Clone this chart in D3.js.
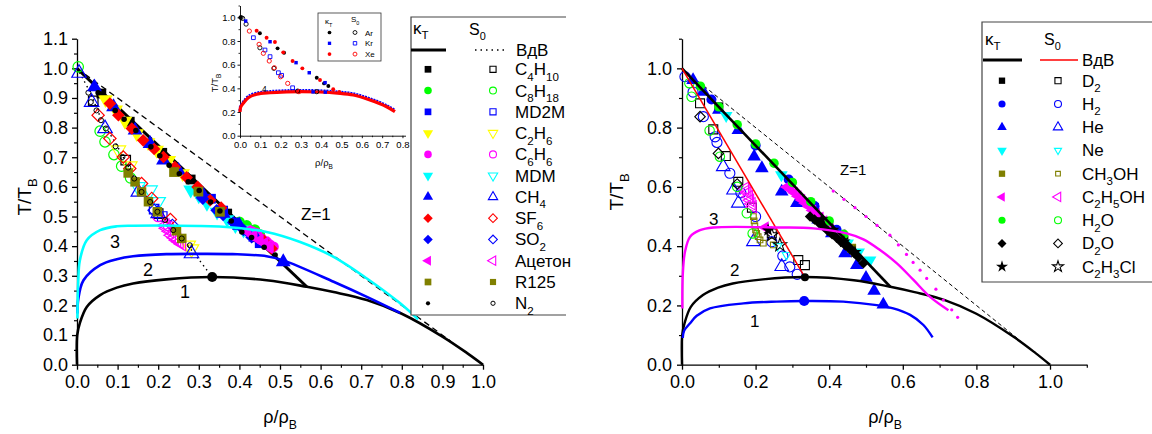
<!DOCTYPE html>
<html><head><meta charset="utf-8">
<script src="https://cdn.jsdelivr.net/npm/d3@7"></script>
<style>body{margin:0;background:#fff}svg{font-family:"Liberation Sans",Arial,sans-serif}</style>
</head><body><svg id="c" width="1152" height="434"></svg>
<script>
// ================= DATA =================
const L_xTicks=[0,0.1,0.2,0.3,0.4,0.5,0.6,0.7,0.8,0.9,1.0];
const L_xMinor=[0.05,0.15,0.25,0.35,0.45,0.55,0.65,0.75,0.85,0.95];
const L_yTicks=[0,0.1,0.2,0.3,0.4,0.5,0.6,0.7,0.8,0.9,1.0,1.1];
const L_yMinor=[0.05,0.15,0.25,0.35,0.45,0.55,0.65,0.75,0.85,0.95,1.05];
const R_xTicks=[0,0.2,0.4,0.6,0.8,1.0];
const R_xMinor=[0.1,0.3,0.5,0.7,0.9,1.1];
const R_yTicks=[0,0.2,0.4,0.6,0.8,1.0];
const R_yMinor=[0.1,0.3,0.5,0.7,0.9,1.1];
const I_xTicks=[0,0.1,0.2,0.3,0.4,0.5,0.6,0.7,0.8];
const I_xMinor=[0.05,0.15,0.25,0.35,0.45,0.55,0.65,0.75];
const I_yTicks=[0,0.2,0.4,0.6,0.8,1.0];
const I_yMinor=[0.1,0.3,0.5,0.7,0.9,1.1];

const zenoLine=[[0,1],[0.92,0.08]];
const kappaLine=[[0,1],[0.566,0.263]];
const L_s0Line=[[0,1],[0.03,0.925],[0.06,0.83],[0.1,0.735],[0.14,0.635],[0.18,0.55],[0.22,0.485],[0.26,0.425],[0.3,0.355],[0.333,0.296]];
const R_s0Line=[[0,1],[0.334,0.295]];
const binodal=[[0,0],[0.0005,0.1],[0.007,0.14],[0.024,0.195],[0.057,0.235],[0.098,0.26],[0.138,0.274],[0.22,0.288],[0.333,0.296],[0.467,0.285],[0.566,0.263],[0.632,0.245],[0.714,0.218],[0.8,0.172],[0.9,0.095],[0.96,0.04],[1.0,0]];
const L_curve2=[[0.001,0.173],[0.003,0.22],[0.016,0.285],[0.057,0.336],[0.098,0.356],[0.138,0.366],[0.22,0.373],[0.301,0.374],[0.383,0.373],[0.467,0.366],[0.508,0.352],[0.632,0.28],[0.714,0.229],[0.796,0.175]];
const L_curve3=[[0.001,0.156],[0.003,0.28],[0.007,0.352],[0.024,0.42],[0.057,0.454],[0.098,0.467],[0.138,0.469],[0.301,0.468],[0.383,0.463],[0.467,0.448],[0.548,0.415],[0.632,0.364],[0.714,0.291],[0.796,0.207],[0.84,0.153]];
const R_curve1=[[0.002,0.09],[0.006,0.115],[0.022,0.14],[0.04,0.165],[0.076,0.19],[0.167,0.207],[0.257,0.213],[0.33,0.215],[0.438,0.213],[0.529,0.201],[0.574,0.19],[0.62,0.168],[0.656,0.134],[0.681,0.092]];
const R_curve3=[[0.001,0.19],[0.002,0.3],[0.008,0.38],[0.022,0.432],[0.049,0.454],[0.085,0.463],[0.266,0.463],[0.357,0.46],[0.447,0.443],[0.493,0.423],[0.538,0.387],[0.584,0.342],[0.629,0.286],[0.674,0.229],[0.724,0.184]];
const R_magDots=[[0.411,0.586],[0.44,0.558],[0.47,0.53],[0.5,0.5],[0.53,0.47],[0.565,0.437],[0.588,0.404],[0.61,0.372],[0.628,0.345],[0.647,0.319],[0.665,0.291],[0.69,0.255],[0.71,0.218],[0.733,0.185],[0.749,0.16]];
const L_crit=[[0.333,0.296]];
const R_crit=[[0.334,0.295]];

const L_C4H10_k=[[0.06,0.915],[0.13,0.82],[0.21,0.715],[0.28,0.625],[0.37,0.51],[0.44,0.43]];
const L_C4H10_s=[[0.04,0.89],[0.12,0.69],[0.2,0.51]];
const L_C8H18_k=[[0.40,0.482],[0.418,0.47],[0.438,0.456],[0.45,0.44]];
const L_C8H18_s=[[0.003,1.005],[0.057,0.788],[0.069,0.752],[0.091,0.709],[0.11,0.67],[0.132,0.63]];
const L_MD2M_k=[[0.33,0.56],[0.36,0.52],[0.39,0.48],[0.42,0.45],[0.45,0.41]];
const L_MD2M_s=[[0.19,0.525],[0.21,0.5]];
const L_C2H6_k=[[0.07,0.895],[0.095,0.86],[0.118,0.822],[0.147,0.78],[0.175,0.75],[0.196,0.724],[0.226,0.69],[0.26,0.645]];
const L_C2H6_s=[[0.102,0.724],[0.13,0.67],[0.274,0.403],[0.282,0.39]];
const L_C6H6_k=[[0.43,0.45],[0.443,0.443],[0.455,0.425],[0.467,0.415],[0.475,0.405],[0.484,0.398]];
const L_C6H6_s=[[0.2,0.5],[0.225,0.47]];
const L_MDM_k=[[0.28,0.59],[0.3,0.57],[0.32,0.545],[0.345,0.515],[0.37,0.49],[0.39,0.47],[0.41,0.455],[0.43,0.44]];
const L_MDM_s=[[0.15,0.6],[0.18,0.589],[0.2,0.55]];
const L_CH4_k=[[0.043,0.937],[0.09,0.87],[0.143,0.791],[0.18,0.746],[0.213,0.69],[0.25,0.655],[0.31,0.575],[0.36,0.51],[0.4,0.47],[0.44,0.43],[0.508,0.347]];
const L_CH4_s=[[0.005,0.984],[0.036,0.886],[0.069,0.797],[0.151,0.583],[0.2,0.51],[0.282,0.375]];
const L_SF6_k=[[0.081,0.881],[0.102,0.842],[0.135,0.797],[0.163,0.757],[0.19,0.728],[0.213,0.701],[0.241,0.667],[0.27,0.632],[0.297,0.6],[0.328,0.555],[0.355,0.53],[0.459,0.42],[0.479,0.392]];
const L_SF6_s=[[0.052,0.842],[0.081,0.763],[0.114,0.701],[0.13,0.662],[0.159,0.611],[0.184,0.561],[0.23,0.49]];
const L_SO2_k=[[0.31,0.56],[0.344,0.521],[0.36,0.505],[0.385,0.48],[0.41,0.455],[0.43,0.43]];
const L_SO2_s=[[0.19,0.521],[0.235,0.47]];
const L_Acet_k=[[0.42,0.45],[0.435,0.435],[0.45,0.42],[0.462,0.41],[0.475,0.395]];
const L_Acet_s=[[0.217,0.47],[0.221,0.46],[0.228,0.45],[0.233,0.437],[0.24,0.428],[0.246,0.42],[0.252,0.414],[0.258,0.407]];
const L_R125_k=[[0.239,0.65],[0.299,0.584],[0.352,0.516]];
const L_R125_s=[[0.126,0.647],[0.143,0.617],[0.159,0.583],[0.176,0.55],[0.198,0.516],[0.245,0.452],[0.258,0.426]];
const L_N2_k=[[0.052,0.918],[0.094,0.858],[0.116,0.828],[0.145,0.79],[0.182,0.735],[0.204,0.705],[0.227,0.673],[0.252,0.644],[0.274,0.617],[0.301,0.588],[0.329,0.549],[0.352,0.519],[0.38,0.485],[0.406,0.448],[0.43,0.429],[0.461,0.396],[0.488,0.37]];
const L_N2_s=[[0.028,0.918],[0.034,0.886],[0.048,0.858],[0.059,0.825],[0.071,0.797],[0.095,0.737],[0.112,0.701],[0.126,0.665],[0.141,0.628],[0.159,0.583],[0.18,0.549],[0.198,0.516],[0.217,0.488],[0.237,0.454],[0.258,0.426],[0.278,0.403]];

const I_Ar_k=[[0.003,1.0],[0.098,0.865],[0.185,0.738],[0.217,0.701],[0.378,0.49],[0.414,0.442],[0.435,0.42]];
const I_Kr_k=[[0.028,0.969],[0.148,0.794],[0.276,0.617],[0.341,0.532],[0.419,0.448],[0.36,0.37],[0.42,0.368]];
const I_Xe_k=[[0.082,0.887],[0.131,0.828],[0.172,0.792],[0.213,0.704],[0.259,0.631],[0.307,0.569],[0.394,0.47],[0.459,0.392],[0.489,0.369]];
const I_Ar_s=[[0.005,0.998],[0.013,0.991],[0.03,0.943],[0.098,0.743],[0.167,0.569],[0.284,0.377],[0.378,0.372]];
const I_Kr_s=[[0.066,0.828],[0.123,0.724],[0.148,0.668],[0.189,0.532],[0.205,0.51],[0.259,0.405]];
const I_Xe_s=[[0.046,0.884],[0.094,0.772],[0.115,0.696],[0.144,0.631],[0.169,0.574],[0.2,0.498],[0.235,0.442],[0.29,0.372]];
const I_curve4=[[0.0,0.2],[0.003,0.24],[0.016,0.274],[0.041,0.321],[0.082,0.35],[0.148,0.363],[0.23,0.37],[0.3,0.372],[0.394,0.369],[0.48,0.36],[0.558,0.344],[0.64,0.302],[0.722,0.245],[0.763,0.203]];

const R_D2_k=[[0.1,0.87],[0.36,0.53],[0.44,0.42]];
const R_D2_s=[[0.049,0.882],[0.085,0.794],[0.119,0.704],[0.153,0.617],[0.19,0.53],[0.244,0.443],[0.316,0.353],[0.334,0.336]];
const R_H2_k=[[0.08,0.895],[0.2,0.74],[0.29,0.625],[0.36,0.535],[0.42,0.455],[0.332,0.215]];
const R_H2_s=[[0.008,0.972],[0.03,0.92],[0.058,0.837],[0.09,0.769],[0.095,0.75],[0.13,0.646],[0.16,0.58],[0.2,0.5],[0.244,0.415],[0.274,0.367],[0.293,0.33],[0.313,0.305]];
const R_He_k=[[0.03,0.96],[0.058,0.921],[0.1,0.86],[0.153,0.792],[0.196,0.702],[0.217,0.663],[0.271,0.584],[0.312,0.545],[0.37,0.49],[0.407,0.443],[0.443,0.376],[0.475,0.336],[0.5,0.293],[0.522,0.249],[0.547,0.203]];
const R_He_s=[[0.112,0.668],[0.14,0.589],[0.153,0.545],[0.194,0.415],[0.271,0.331]];
const R_Ne_k=[[0.12,0.84],[0.27,0.64],[0.42,0.44],[0.45,0.41],[0.48,0.38],[0.511,0.353]];
const R_Ne_s=[[0.26,0.4],[0.284,0.37]];
const R_CH3OH_k=[[0.43,0.43],[0.461,0.393]];
const R_CH3OH_s=[[0.194,0.5],[0.196,0.485],[0.198,0.468],[0.2,0.455],[0.203,0.443],[0.207,0.432],[0.212,0.421],[0.221,0.41],[0.248,0.404]];
const R_C2H5OH_k=[[0.285,0.6],[0.295,0.59],[0.305,0.58],[0.315,0.568],[0.325,0.556],[0.335,0.545],[0.345,0.533],[0.355,0.52],[0.365,0.508],[0.375,0.496],[0.385,0.484],[0.395,0.474],[0.402,0.466],[0.434,0.438],[0.226,0.463]];
const R_C2H5OH_s=[[0.171,0.595],[0.175,0.587],[0.178,0.58],[0.182,0.567],[0.185,0.555],[0.189,0.543],[0.192,0.533]];
const R_H2O_k=[[0.05,0.94],[0.1,0.87],[0.15,0.81],[0.2,0.745],[0.25,0.68],[0.3,0.615],[0.35,0.55],[0.4,0.485],[0.44,0.44]];
const R_H2O_s=[[0.02,0.95],[0.026,0.904],[0.075,0.79],[0.103,0.702],[0.15,0.6],[0.176,0.511],[0.192,0.443]];
const R_D2O_k=[[0.348,0.5],[0.36,0.49],[0.372,0.478],[0.384,0.466],[0.396,0.452],[0.408,0.44],[0.42,0.428],[0.432,0.414],[0.444,0.402],[0.456,0.39],[0.468,0.376],[0.48,0.362],[0.493,0.342]];
const R_D2O_s=[[0.049,0.837],[0.099,0.713],[0.15,0.61]];
const R_C2H3Cl_k=[[0.38,0.49],[0.41,0.455],[0.44,0.415],[0.47,0.38],[0.234,0.454]];
const R_C2H3Cl_s=[[0.244,0.438],[0.266,0.404]];

// ================= DRAWING =================
const svg=d3.select('#c');
const FONT='"Liberation Sans", Arial, sans-serif';
const yS=d3.scaleLinear().domain([0,1.1]).range([364.7,38.7]);
const xL=d3.scaleLinear().domain([0,1]).range([77,483]);
const xR=d3.scaleLinear().domain([0,1.1]).range([682,1086.8]);
const xI=d3.scaleLinear().domain([0,0.815]).range([240,405.5]);
const yI=d3.scaleLinear().domain([0,1.1]).range([135.7,5.5]);

const symT={square:d3.symbolSquare,circle:d3.symbolCircle,triUp:d3.symbolTriangle,triDown:d3.symbolTriangle,triLeft:d3.symbolTriangle,diamond:d3.symbolSquare,star:d3.symbolStar};
const rotT={square:0,circle:0,triUp:0,triDown:180,triLeft:-90,diamond:45,star:0};
function pts(g,data,sx,sy,shape,size,color,filled,sw){
  g.append('g').selectAll('path').data(data).join('path')
   .attr('d',d3.symbol().type(symT[shape]).size(size)())
   .attr('transform',d=>`translate(${sx(d[0]).toFixed(2)},${sy(d[1]).toFixed(2)}) rotate(${rotT[shape]})`)
   .attr('fill',filled?color:'none')
   .attr('stroke',filled?'none':color)
   .attr('stroke-width',sw||1.2);
}
function line(g,data,sx,sy,color,w,dash,curve){
  const gen=d3.line().x(d=>sx(d[0])).y(d=>sy(d[1]));
  if(curve) gen.curve(curve);
  const p=g.append('path').attr('d',gen(data)).attr('fill','none').attr('stroke',color).attr('stroke-width',w);
  if(dash) p.attr('stroke-dasharray',dash);
  return p;
}
function rich(parent,str,x,y,fs,anchor,transform){
  const t=parent.append('text').attr('x',x).attr('y',y).attr('font-size',fs).attr('fill','#000').attr('font-family',FONT);
  if(anchor) t.attr('text-anchor',anchor);
  if(transform) t.attr('transform',transform);
  const parts=str.split(/(\{[^}]*\})/).filter(s=>s.length);
  let shifted=false; const off=fs*0.32;
  parts.forEach(p=>{
    if(p[0]==='{'){ t.append('tspan').attr('font-size',fs*0.68).attr('dy',shifted?0:off).text(p.slice(1,-1)); shifted=true; }
    else { t.append('tspan').attr('dy',shifted?-off:0).text(p); shifted=false; }
  });
  return t;
}
function axis(g,scale,orient,majors,minors,fs,majLen,minLen,pad,tx,ty,sw){
  const A=orient==='bottom'?d3.axisBottom:d3.axisLeft;
  const ga=g.append('g').attr('transform',`translate(${tx},${ty})`)
    .call(A(scale).tickValues(majors).tickFormat(d3.format('.1f')).tickSize(majLen).tickSizeOuter(0).tickPadding(pad));
  ga.attr('font-size',fs).attr('font-family',FONT);
  ga.selectAll('text').attr('fill','#000');
  ga.select('.domain').attr('stroke','#000').attr('stroke-width',sw);
  ga.selectAll('.tick line').attr('stroke','#000').attr('stroke-width',sw);
  const gm=g.append('g').attr('transform',`translate(${tx},${ty})`)
    .call(A(scale).tickValues(minors).tickFormat('').tickSize(minLen).tickSizeOuter(0));
  gm.select('.domain').remove();
  gm.selectAll('.tick line').attr('stroke','#000').attr('stroke-width',sw*0.9);
}

// ---------- LEFT PANEL ----------
const gL=svg.append('g');
axis(gL,xL,'bottom',L_xTicks,L_xMinor,18,5,3,6,0,364.7,1.3);
axis(gL,yS,'left',L_yTicks,L_yMinor,18,5,3,4,77,0,1.3);
rich(gL,'T/T{B}',0,0,19,'middle','translate(31,197) rotate(-90)');
rich(gL,'ρ/ρ{B}',280,423,18,'middle');

line(gL,zenoLine,xL,yS,'#000',1.3,'6,4');
line(gL,kappaLine,xL,yS,'#000',3);
line(gL,L_s0Line,xL,yS,'#000',1.4,'1.5,3.5',d3.curveCatmullRom);

const L_series=[
 {name:'C{4}H{10}',k:L_C4H10_k,s:L_C4H10_s,shape:'square',color:'#000000'},
 {name:'C{8}H{18}',k:L_C8H18_k,s:L_C8H18_s,shape:'circle',color:'#00ff00'},
 {name:'MD2M',k:L_MD2M_k,s:L_MD2M_s,shape:'square',color:'#0000ff'},
 {name:'C{2}H{6}',k:L_C2H6_k,s:L_C2H6_s,shape:'triDown',color:'#ffff00'},
 {name:'C{6}H{6}',k:L_C6H6_k,s:L_C6H6_s,shape:'circle',color:'#ff00ff'},
 {name:'MDM',k:L_MDM_k,s:L_MDM_s,shape:'triDown',color:'#00ffff'},
 {name:'CH{4}',k:L_CH4_k,s:L_CH4_s,shape:'triUp',color:'#0000ff'},
 {name:'SF{6}',k:L_SF6_k,s:L_SF6_s,shape:'diamond',color:'#ff0000'},
 {name:'SO{2}',k:L_SO2_k,s:L_SO2_s,shape:'diamond',color:'#0000ff'},
 {name:'Ацетон',k:L_Acet_k,s:L_Acet_s,shape:'triLeft',color:'#ff00ff'},
 {name:'R125',k:L_R125_k,s:L_R125_s,shape:'square',color:'#808000',sFilled:true},
 {name:'N{2}',k:L_N2_k,s:L_N2_s,shape:'circle',color:'#000000',small:true}
];
const bigSize={square:95,circle:90,triUp:95,triDown:95,triLeft:80,diamond:80,star:80};
L_series.forEach(s=>{
  pts(gL,s.s,xL,yS,s.shape,s.small?20:bigSize[s.shape]*0.95,s.color,!!s.sFilled,s.small?1:1.2);
});
L_series.forEach(s=>{
  pts(gL,s.k,xL,yS,s.shape,s.small?24:bigSize[s.shape],s.color,true);
});
line(gL,binodal,xL,yS,'#000',2.6,null,d3.curveCatmullRom);
line(gL,L_curve2,xL,yS,'#0000ff',2.6,null,d3.curveCatmullRom);
line(gL,L_curve3,xL,yS,'#00ffff',2.6,null,d3.curveCatmullRom);
gL.selectAll('.crit').data(L_crit).join('circle').attr('cx',d=>xL(d[0])).attr('cy',d=>yS(d[1])).attr('r',5).attr('fill','#000');
rich(gL,'1',180,298,18);
rich(gL,'2',143,276,18);
rich(gL,'3',110,248,18);
rich(gL,'Z=1',301,220,17);

// ---------- INSET ----------
const gI=svg.append('g');
axis(gI,xI,'bottom',I_xTicks,I_xMinor,9.5,2.5,1.5,3,0,135.7,0.9);
axis(gI,yI,'left',I_yTicks,I_yMinor,9.5,2.5,1.5,2,240,0,0.9);
rich(gI,'T/T{B}',0,0,9.5,'middle','translate(218,83) rotate(-90)');
rich(gI,'ρ/ρ{B}',324,166,9.5,'middle');
line(gI,I_curve4,xI,yI,'#0000ff',3,'2,1',d3.curveCatmullRom).attr('transform','translate(0,-1.2)');
line(gI,I_curve4,xI,yI,'#ff0000',3.2,null,d3.curveCatmullRom);
rich(gI,'4',262,92,8.5);
const I_series=[
 {name:'Ar',k:I_Ar_k,s:I_Ar_s,shape:'circle',color:'#000000'},
 {name:'Kr',k:I_Kr_k,s:I_Kr_s,shape:'square',color:'#0000ff'},
 {name:'Xe',k:I_Xe_k,s:I_Xe_s,shape:'circle',color:'#ff0000'}
];
I_series.forEach(s=>{
  pts(gI,s.s,xI,yI,s.shape,14,s.color,false,0.9);
  pts(gI,s.k,xI,yI,s.shape,12,s.color,true);
});
gI.append('rect').attr('x',318).attr('y',13).attr('width',63).attr('height',48).attr('fill','#fff').attr('stroke','#333').attr('stroke-width',0.8);
rich(gI,'κ{T}',325,24,8);
rich(gI,'S{0}',351,22,8);
I_series.forEach((s,i)=>{
  const y=32.5+i*10.8;
  pts(gI,[[0,0]],()=>329.5,()=>y,s.shape,11,s.color,true);
  pts(gI,[[0,0]],()=>355,()=>y,s.shape,12,s.color,false,0.9);
  rich(gI,s.name,365,y+3,8);
});

// ---------- LEFT LEGEND ----------
const gLL=svg.append('g');
gLL.append('rect').attr('x',411).attr('y',17).attr('width',160).attr('height',298).attr('fill','#fff');
gLL.append('path').attr('d','M566,17H411V315H566').attr('fill','none').attr('stroke','#444').attr('stroke-width',1.2);
rich(gLL,'κ{T}',413,34,17);
rich(gLL,'S{0}',469,35,16);
gLL.append('line').attr('x1',411).attr('x2',446).attr('y1',50).attr('y2',50).attr('stroke','#000').attr('stroke-width',3);
gLL.append('line').attr('x1',475).attr('x2',508).attr('y1',50).attr('y2',50).attr('stroke','#000').attr('stroke-width',1.4).attr('stroke-dasharray','1.5,4');
rich(gLL,'ВдВ',516,56,17);
L_series.forEach((s,i)=>{
  const y=69.3+i*21.27;
  pts(gLL,[[0,0]],()=>428,()=>y,s.shape,s.small?14:45,s.color,true);
  pts(gLL,[[0,0]],()=>493,()=>y,s.shape,s.small?14:38,s.color,!!s.sFilled,s.small?1:1.1);
  rich(gLL,s.name,515,y+6,17);
});

// ---------- RIGHT PANEL ----------
const gR=svg.append('g');
axis(gR,xR,'bottom',R_xTicks,R_xMinor,18,5,3,6,0,364.7,1.3);
axis(gR,yS,'left',R_yTicks,R_yMinor,18,5,3,5,682,0,1.3);
rich(gR,'T/T{B}',0,0,19,'middle','translate(623,192) rotate(-90)');
rich(gR,'ρ/ρ{B}',885,423,18,'middle');
line(gR,zenoLine,xR,yS,'#000',1,'4,3');

const R_series=[
 {name:'D{2}',k:R_D2_k,s:R_D2_s,shape:'square',color:'#000000',sz:80},
 {name:'H{2}',k:R_H2_k,s:R_H2_s,shape:'circle',color:'#0000ff',sz:80},
 {name:'He',k:R_He_k,s:R_He_s,shape:'triUp',color:'#0000ff',sz:80},
 {name:'Ne',k:R_Ne_k,s:R_Ne_s,shape:'triDown',color:'#00ffff',sz:70,sSmall:true},
 {name:'CH{3}OH',k:R_CH3OH_k,s:R_CH3OH_s,shape:'square',color:'#808000',sz:80,sSmall:true},
 {name:'C{2}H{5}OH',k:R_C2H5OH_k,s:R_C2H5OH_s,shape:'triLeft',color:'#ff00ff',sz:65},
 {name:'H{2}O',k:R_H2O_k,s:R_H2O_s,shape:'circle',color:'#00ff00',sz:70},
 {name:'D{2}O',k:R_D2O_k,s:R_D2O_s,shape:'diamond',color:'#000000',sz:55},
 {name:'C{2}H{3}Cl',k:R_C2H3Cl_k,s:R_C2H3Cl_s,shape:'star',color:'#000000',sz:55}
];
R_series.forEach(s=>{
  pts(gR,s.s,xR,yS,s.shape,s.sSmall?32:s.sz,s.color,false,1.1);
});
R_series.forEach(s=>{
  pts(gR,s.k,xR,yS,s.shape,s.sz,s.color,true);
});
line(gR,kappaLine,xR,yS,'#000',2.6);
line(gR,R_s0Line,xR,yS,'#ff0000',1.5);
line(gR,binodal,xR,yS,'#000',2.4,null,d3.curveCatmullRom);
line(gR,R_curve1,xR,yS,'#0000ff',2.4,null,d3.curveCatmullRom);
line(gR,R_curve3,xR,yS,'#ff00ff',2.4,null,d3.curveCatmullRom);
gR.append('g').selectAll('circle').data(R_magDots).join('circle').attr('cx',d=>xR(d[0])).attr('cy',d=>yS(d[1])).attr('r',1.6).attr('fill','#ff00ff');
gR.append('g').selectAll('circle').data(R_crit).join('circle').attr('cx',d=>xR(d[0])).attr('cy',d=>yS(d[1])).attr('r',4).attr('fill','#000');
rich(gR,'3',709,225,17);
rich(gR,'2',730,276,17);
rich(gR,'1',750,327,17);
rich(gR,'Z=1',840,175,15);

// ---------- RIGHT LEGEND ----------
const gRL=svg.append('g');
gRL.append('rect').attr('x',982).attr('y',22).attr('width',172).attr('height',260).attr('fill','#fff');
gRL.append('path').attr('d','M1154,22H982V282H1154').attr('fill','none').attr('stroke','#444').attr('stroke-width',1.2);
rich(gRL,'κ{T}',985,45,17);
rich(gRL,'S{0}',1044,45,16);
gRL.append('line').attr('x1',983).attr('x2',1022).attr('y1',60).attr('y2',60).attr('stroke','#000').attr('stroke-width',3);
gRL.append('line').attr('x1',1040).attr('x2',1078).attr('y1',60).attr('y2',60).attr('stroke','#ff0000').attr('stroke-width',1.5);
rich(gRL,'ВдВ',1082,66,17);
R_series.forEach((s,i)=>{
  const y=80.7+i*23.25;
  pts(gRL,[[0,0]],()=>1002,()=>y,s.shape,s.shape==='star'?45:40,s.color,true);
  pts(gRL,[[0,0]],()=>1058,()=>y,s.shape,s.sSmall?22:38,s.color,false,1.1);
  rich(gRL,s.name,1082,y+6,17);
});
</script></body></html>
